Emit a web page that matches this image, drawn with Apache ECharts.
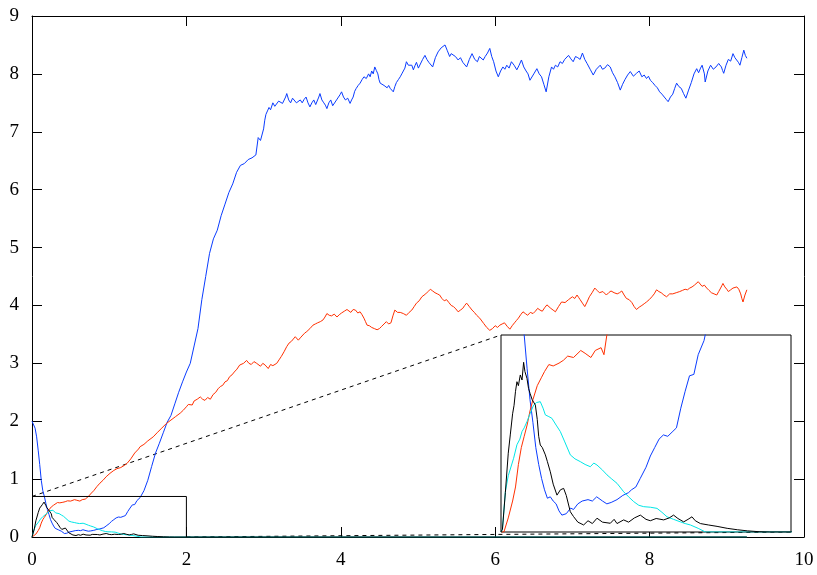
<!DOCTYPE html>
<html>
<head>
<meta charset="utf-8">
<script src="https://cdn.jsdelivr.net/npm/echarts@6/dist/echarts.min.js"></script>
<style>
  html, body { margin: 0; padding: 0; background: #fff; }
  #chart { width: 817px; height: 575px; }
</style>
</head>
<body>
<div id="chart"></div>
<script>
// ticks of the main axes
const xTicks = [0, 2, 4, 6, 8, 10];
const yTicks = [0, 1, 2, 3, 4, 5, 6, 7, 8, 9];

// zoomed window shown in the inset (main axis units)
const zoomX = [0, 2];
const zoomY = [0, 0.7];

// series, [x, y]
const blue = [
  [0, 2.0], [0.02, 1.97], [0.04, 1.88], [0.06, 1.73], [0.08, 1.5], [0.1, 1.25], [0.12, 0.98], [0.14, 0.8],
  [0.16, 0.7], [0.18, 0.58], [0.2, 0.47], [0.22, 0.39], [0.24, 0.3], [0.26, 0.24], [0.28, 0.19], [0.3, 0.15],
  [0.32, 0.12], [0.34, 0.125], [0.36, 0.11], [0.38, 0.1], [0.4, 0.075], [0.42, 0.06], [0.45, 0.065], [0.48, 0.085],
  [0.5, 0.08], [0.53, 0.1], [0.56, 0.11], [0.6, 0.115], [0.63, 0.11], [0.66, 0.125], [0.7, 0.11], [0.73, 0.1],
  [0.76, 0.105], [0.8, 0.115], [0.84, 0.13], [0.88, 0.14], [0.9, 0.15], [0.93, 0.16], [0.96, 0.19], [1.0, 0.23],
  [1.03, 0.27], [1.06, 0.3], [1.09, 0.33], [1.12, 0.345], [1.15, 0.34], [1.18, 0.355], [1.21, 0.37], [1.24, 0.44],
  [1.27, 0.5], [1.3, 0.555], [1.33, 0.56], [1.36, 0.63], [1.4, 0.68], [1.45, 0.8], [1.5, 0.98], [1.55, 1.22],
  [1.6, 1.45], [1.65, 1.62], [1.7, 1.8], [1.75, 1.98], [1.8, 2.1], [1.85, 2.3], [1.9, 2.5], [1.95, 2.68],
  [2.0, 2.85], [2.05, 3.0], [2.1, 3.3], [2.15, 3.6], [2.2, 4.1], [2.25, 4.5], [2.3, 4.9], [2.35, 5.15],
  [2.4, 5.3], [2.45, 5.55], [2.5, 5.75], [2.55, 5.95], [2.6, 6.1], [2.65, 6.3], [2.7, 6.42], [2.75, 6.45],
  [2.8, 6.52], [2.85, 6.55], [2.9, 6.6], [2.93, 6.9], [2.96, 6.85],
  [3.0, 7.05], [3.015, 7.2], [3.03, 7.3], [3.05, 7.36], [3.07, 7.42], [3.09, 7.38], [3.12, 7.5], [3.145, 7.44],
  [3.17, 7.47], [3.195, 7.53], [3.22, 7.55], [3.245, 7.49], [3.27, 7.52], [3.285, 7.6], [3.3, 7.66], [3.325, 7.55],
  [3.35, 7.5], [3.375, 7.58], [3.4, 7.55], [3.425, 7.5], [3.45, 7.48], [3.475, 7.55], [3.5, 7.5], [3.525, 7.56],
  [3.55, 7.6], [3.575, 7.5], [3.6, 7.43], [3.625, 7.5], [3.65, 7.55], [3.675, 7.47], [3.7, 7.5], [3.715, 7.6],
  [3.73, 7.66], [3.755, 7.55], [3.78, 7.5], [3.8, 7.46], [3.82, 7.4], [3.845, 7.5], [3.87, 7.55], [3.895, 7.45],
  [3.92, 7.48], [3.945, 7.55], [3.97, 7.6], [3.99, 7.64], [4.01, 7.69], [4.035, 7.6], [4.06, 7.55], [4.09, 7.58],
  [4.12, 7.49], [4.14, 7.55], [4.16, 7.6], [4.18, 7.7], [4.2, 7.75], [4.225, 7.8], [4.25, 7.84], [4.275, 7.9],
  [4.3, 7.95], [4.33, 7.92], [4.36, 8.0], [4.38, 7.95], [4.4, 8.05], [4.42, 8.0], [4.44, 8.12], [4.46, 8.06],
  [4.48, 8.0], [4.495, 7.9], [4.51, 7.84], [4.535, 7.86], [4.56, 7.8], [4.58, 7.82], [4.6, 7.76], [4.62, 7.8],
  [4.64, 7.75], [4.66, 7.72], [4.68, 7.69], [4.7, 7.78], [4.72, 7.85], [4.745, 7.9], [4.77, 7.95], [4.79, 8.0],
  [4.81, 8.05], [4.83, 8.1], [4.85, 8.21], [4.875, 8.15], [4.9, 8.12], [4.92, 8.15], [4.94, 8.07], [4.96, 8.14],
  [4.98, 8.2], [5.005, 8.1], [5.03, 8.12], [5.06, 8.25], [5.09, 8.32], [5.115, 8.25], [5.14, 8.2], [5.165, 8.17],
  [5.19, 8.12], [5.225, 8.28], [5.26, 8.38], [5.28, 8.35], [5.3, 8.45], [5.325, 8.42], [5.35, 8.5], [5.38, 8.4],
  [5.41, 8.3], [5.43, 8.35], [5.45, 8.38], [5.485, 8.3], [5.52, 8.24], [5.55, 8.28], [5.58, 8.2], [5.605, 8.22],
  [5.63, 8.12], [5.665, 8.25], [5.7, 8.35], [5.735, 8.25], [5.77, 8.21], [5.795, 8.3], [5.82, 8.28], [5.845, 8.24],
  [5.87, 8.3], [5.9, 8.36], [5.93, 8.44], [5.955, 8.3], [5.98, 8.21], [6.01, 8.05], [6.04, 7.95], [6.07, 8.05],
  [6.1, 8.12], [6.125, 8.08], [6.15, 8.15], [6.18, 8.1], [6.21, 8.21], [6.245, 8.15], [6.28, 8.07], [6.31, 8.15],
  [6.34, 8.24], [6.37, 8.12], [6.4, 8.05], [6.425, 8.0], [6.45, 7.89], [6.5, 8.0], [6.54, 8.09], [6.57, 8.0],
  [6.6, 7.95], [6.63, 7.82], [6.66, 7.69], [6.695, 7.95], [6.73, 8.12], [6.755, 8.08], [6.78, 8.15], [6.81, 8.12],
  [6.84, 8.21], [6.87, 8.18], [6.9, 8.25], [6.925, 8.22], [6.95, 8.32], [6.98, 8.26], [7.01, 8.21], [7.04, 8.3],
  [7.07, 8.28], [7.1, 8.25], [7.13, 8.36], [7.16, 8.25], [7.19, 8.18], [7.23, 8.08], [7.27, 7.98], [7.31, 8.08],
  [7.36, 8.15], [7.39, 8.08], [7.42, 8.1], [7.455, 8.16], [7.49, 8.12], [7.52, 8.02], [7.55, 7.95], [7.585, 7.85],
  [7.62, 7.72], [7.65, 7.82], [7.68, 7.9], [7.715, 7.98], [7.75, 8.04], [7.79, 7.96], [7.83, 8.01], [7.865, 8.05],
  [7.9, 7.95], [7.93, 7.98], [7.96, 7.92], [7.985, 7.96], [8.01, 7.89], [8.04, 7.85], [8.07, 7.8], [8.1, 7.76],
  [8.13, 7.69], [8.16, 7.65], [8.19, 7.6], [8.215, 7.56], [8.24, 7.52], [8.27, 7.6], [8.3, 7.65], [8.325, 7.75],
  [8.35, 7.84], [8.38, 7.78], [8.41, 7.75], [8.44, 7.66], [8.47, 7.58], [8.505, 7.72], [8.54, 7.85], [8.575, 8.0],
  [8.61, 8.09], [8.635, 8.02], [8.66, 8.1], [8.68, 8.15], [8.7, 8.18], [8.71, 8.0], [8.72, 7.86], [8.755, 8.05],
  [8.79, 8.15], [8.825, 8.08], [8.86, 8.12], [8.895, 8.18], [8.93, 8.12], [8.945, 8.06], [8.96, 8.01], [8.99, 8.15],
  [9.02, 8.25], [9.05, 8.22], [9.08, 8.35], [9.105, 8.28], [9.13, 8.3], [9.15, 8.2], [9.17, 8.15], [9.195, 8.28],
  [9.22, 8.41], [9.24, 8.32], [9.26, 8.27]
];

const red = [
  [0, 0], [0.02, 0], [0.05, 0.05], [0.08, 0.11], [0.1, 0.16], [0.12, 0.24], [0.14, 0.3], [0.16, 0.34],
  [0.18, 0.38], [0.2, 0.43], [0.22, 0.47], [0.25, 0.52], [0.28, 0.55], [0.3, 0.57], [0.33, 0.595], [0.36, 0.59],
  [0.4, 0.6], [0.43, 0.61], [0.46, 0.625], [0.5, 0.62], [0.55, 0.645], [0.58, 0.635], [0.62, 0.62], [0.65, 0.645],
  [0.69, 0.655], [0.71, 0.63], [0.73, 0.7], [0.77, 0.76], [0.8, 0.8], [0.84, 0.87], [0.88, 0.93], [0.92, 0.98],
  [0.96, 1.04], [1.01, 1.1], [1.06, 1.15], [1.1, 1.18], [1.15, 1.2], [1.2, 1.24], [1.23, 1.27], [1.28, 1.35],
  [1.33, 1.45], [1.38, 1.52], [1.4, 1.56], [1.45, 1.6], [1.5, 1.66], [1.57, 1.73], [1.62, 1.8], [1.68, 1.88],
  [1.74, 1.96], [1.8, 2.02], [1.86, 2.08], [1.92, 2.14], [1.96, 2.19],
  [2.0, 2.25], [2.025, 2.29], [2.05, 2.3], [2.075, 2.28], [2.1, 2.35], [2.14, 2.38], [2.18, 2.42], [2.21, 2.38],
  [2.24, 2.36], [2.275, 2.41], [2.31, 2.38], [2.345, 2.46], [2.38, 2.5], [2.41, 2.56], [2.44, 2.6], [2.47, 2.62],
  [2.5, 2.68], [2.53, 2.7], [2.56, 2.77], [2.59, 2.8], [2.62, 2.85], [2.655, 2.9], [2.69, 2.97], [2.715, 2.95],
  [2.74, 3.0], [2.76, 2.98], [2.78, 3.05], [2.81, 3.0], [2.84, 2.98], [2.875, 3.03], [2.91, 3.0], [2.935, 2.97],
  [2.96, 2.95], [2.99, 3.0], [3.02, 2.97], [3.04, 2.94], [3.06, 2.91], [3.09, 2.98], [3.12, 2.96], [3.145, 2.99],
  [3.17, 3.0], [3.2, 3.06], [3.23, 3.12], [3.265, 3.2], [3.3, 3.29], [3.33, 3.35], [3.36, 3.38], [3.385, 3.42],
  [3.41, 3.46], [3.43, 3.43], [3.45, 3.4], [3.475, 3.44], [3.5, 3.47], [3.53, 3.52], [3.56, 3.55], [3.58, 3.57],
  [3.6, 3.6], [3.62, 3.63], [3.64, 3.66], [3.67, 3.68], [3.7, 3.7], [3.735, 3.72], [3.77, 3.75], [3.795, 3.8],
  [3.82, 3.86], [3.85, 3.83], [3.88, 3.82], [3.915, 3.85], [3.95, 3.8], [3.98, 3.84], [4.01, 3.87], [4.045, 3.9],
  [4.08, 3.93], [4.105, 3.9], [4.13, 3.88], [4.16, 3.93], [4.19, 3.92], [4.22, 3.87], [4.25, 3.89], [4.275, 3.84],
  [4.3, 3.78], [4.32, 3.72], [4.34, 3.66], [4.37, 3.65], [4.4, 3.62], [4.435, 3.6], [4.47, 3.58], [4.5, 3.6],
  [4.53, 3.64], [4.56, 3.68], [4.59, 3.72], [4.62, 3.68], [4.65, 3.7], [4.675, 3.82], [4.7, 3.92], [4.735, 3.88],
  [4.77, 3.88], [4.81, 3.86], [4.85, 3.83], [4.885, 3.88], [4.92, 3.92], [4.95, 3.98], [4.98, 4.04], [5.015, 4.08],
  [5.05, 4.15], [5.075, 4.17], [5.1, 4.2], [5.13, 4.24], [5.16, 4.28], [5.19, 4.25], [5.22, 4.22], [5.25, 4.2],
  [5.28, 4.18], [5.31, 4.12], [5.34, 4.08], [5.37, 4.1], [5.4, 4.05], [5.43, 4.0], [5.46, 3.98], [5.49, 3.94],
  [5.52, 3.89], [5.55, 3.92], [5.58, 3.95], [5.605, 4.0], [5.63, 4.04], [5.665, 3.98], [5.7, 3.92], [5.73, 3.88],
  [5.76, 3.83], [5.8, 3.78], [5.85, 3.69], [5.89, 3.62], [5.93, 3.57], [5.965, 3.6], [6.0, 3.65], [6.03, 3.62],
  [6.06, 3.66], [6.09, 3.68], [6.12, 3.7], [6.155, 3.64], [6.19, 3.59], [6.22, 3.65], [6.25, 3.7], [6.275, 3.74],
  [6.3, 3.78], [6.33, 3.84], [6.36, 3.89], [6.39, 3.86], [6.42, 3.83], [6.455, 3.88], [6.49, 3.86], [6.52, 3.9],
  [6.55, 3.95], [6.58, 3.92], [6.61, 3.9], [6.64, 3.96], [6.67, 4.01], [6.695, 3.98], [6.72, 3.95], [6.75, 3.92],
  [6.78, 3.89], [6.82, 3.98], [6.86, 4.06], [6.905, 4.05], [6.95, 4.1], [6.975, 4.13], [7.0, 4.15], [7.03, 4.12],
  [7.06, 4.18], [7.08, 4.14], [7.1, 4.1], [7.13, 4.04], [7.16, 3.98], [7.19, 4.06], [7.22, 4.15], [7.255, 4.22],
  [7.29, 4.3], [7.32, 4.26], [7.35, 4.22], [7.395, 4.24], [7.44, 4.18], [7.47, 4.22], [7.5, 4.25], [7.54, 4.22],
  [7.58, 4.2], [7.61, 4.22], [7.64, 4.25], [7.67, 4.18], [7.7, 4.12], [7.735, 4.1], [7.77, 4.05], [7.8, 3.98],
  [7.83, 3.93], [7.865, 3.97], [7.9, 4.0], [7.93, 4.03], [7.96, 4.06], [7.995, 4.1], [8.03, 4.15], [8.06, 4.2],
  [8.09, 4.27], [8.12, 4.24], [8.15, 4.22], [8.185, 4.18], [8.22, 4.15], [8.26, 4.2], [8.3, 4.2], [8.345, 4.22],
  [8.39, 4.24], [8.425, 4.26], [8.46, 4.28], [8.49, 4.27], [8.52, 4.3], [8.55, 4.32], [8.58, 4.35], [8.605, 4.38],
  [8.63, 4.41], [8.655, 4.37], [8.68, 4.33], [8.71, 4.35], [8.74, 4.3], [8.77, 4.26], [8.8, 4.22], [8.835, 4.2],
  [8.87, 4.18], [8.895, 4.24], [8.92, 4.3], [8.935, 4.34], [8.95, 4.38], [8.975, 4.32], [9.0, 4.28], [9.02, 4.24],
  [9.05, 4.27], [9.08, 4.3], [9.105, 4.28], [9.13, 4.32], [9.155, 4.28], [9.18, 4.2], [9.195, 4.12], [9.21, 4.06],
  [9.235, 4.18], [9.26, 4.27]
];

const black = [
  [0, 0], [0.01, 0.01], [0.03, 0.14], [0.05, 0.28], [0.064, 0.345], [0.08, 0.42], [0.09, 0.45], [0.1, 0.5],
  [0.11, 0.534], [0.12, 0.52], [0.133, 0.558], [0.145, 0.54], [0.156, 0.603], [0.165, 0.57], [0.179, 0.546], [0.19, 0.51],
  [0.2, 0.493], [0.215, 0.47], [0.237, 0.451], [0.25, 0.4], [0.26, 0.34], [0.271, 0.309], [0.285, 0.3], [0.306, 0.274],
  [0.32, 0.25], [0.34, 0.214], [0.36, 0.17], [0.386, 0.131], [0.41, 0.15], [0.432, 0.155], [0.45, 0.13], [0.478, 0.072],
  [0.5, 0.055], [0.53, 0.035], [0.57, 0.025], [0.6, 0.04], [0.63, 0.03], [0.662, 0.049], [0.7, 0.035], [0.754, 0.031],
  [0.78, 0.045], [0.8, 0.03], [0.846, 0.043], [0.88, 0.035], [0.92, 0.05], [0.961, 0.06], [1.0, 0.045], [1.03, 0.04],
  [1.07, 0.048], [1.122, 0.043], [1.16, 0.05], [1.19, 0.06], [1.22, 0.048], [1.26, 0.036], [1.29, 0.045], [1.317, 0.054],
  [1.34, 0.04], [1.375, 0.03], [1.43, 0.025], [1.49, 0.02], [1.56, 0.013], [1.63, 0.008], [1.7, 0.004], [1.78, 0.001],
  [1.85, 0], [9.26, 0]
];

const cyan = [
  [0, 0], [0.01, 0.01], [0.03, 0.143], [0.05, 0.2], [0.087, 0.262], [0.11, 0.31], [0.13, 0.33], [0.145, 0.357],
  [0.16, 0.37], [0.179, 0.392], [0.2, 0.42], [0.225, 0.451], [0.245, 0.46], [0.271, 0.463], [0.29, 0.44], [0.306, 0.416],
  [0.33, 0.41], [0.351, 0.404], [0.38, 0.38], [0.409, 0.357], [0.44, 0.32], [0.478, 0.274], [0.51, 0.26], [0.547, 0.25],
  [0.58, 0.24], [0.616, 0.232], [0.64, 0.245], [0.662, 0.238], [0.7, 0.22], [0.731, 0.203], [0.76, 0.19], [0.8, 0.173],
  [0.82, 0.16], [0.846, 0.143], [0.88, 0.125], [0.915, 0.108], [0.95, 0.095], [0.984, 0.09], [1.03, 0.088], [1.076, 0.084],
  [1.11, 0.07], [1.145, 0.054], [1.19, 0.045], [1.237, 0.036], [1.27, 0.03], [1.306, 0.025], [1.36, 0.013], [1.41, 0],
  [9.26, 0]
];

const colors = { blue: '#0a3cff', red: '#ff3000', black: '#000000', cyan: '#00e6e6' };

const font = "'Liberation Serif', 'DejaVu Serif', serif";
const myChart = echarts.init(document.getElementById('chart'));

// inset box, in pixels
const inset = { left: 501, top: 335, width: 290, height: 197 };

function curve(name, data, color, axis) {
  return {
    name: name,
    type: 'line',
    data: data,
    xAxisIndex: axis,
    yAxisIndex: axis,
    showSymbol: false,
    animation: false,
    lineStyle: { color: color, width: 1 },
    z: 3,
  };
}

function mainAxis(pos, min, max, interval, labels) {
  return {
    type: 'value',
    gridIndex: 0,
    position: pos,
    min: min,
    max: max,
    interval: interval,
    axisLine: { show: true, onZero: false, lineStyle: { color: '#000', width: 1 } },
    axisTick: { show: true, inside: true, length: 10, lineStyle: { color: '#000' } },
    axisLabel: {
      show: labels,
      color: '#000',
      fontFamily: font,
      fontSize: 19,
      margin: pos === 'bottom' ? 14 : 13,
    },
    splitLine: { show: false },
  };
}

function insetAxis(min, max) {
  return {
    type: 'value',
    gridIndex: 1,
    min: min,
    max: max,
    show: false,
    splitLine: { show: false },
  };
}

const option = {
  backgroundColor: '#fff',
  animation: false,
  grid: [
    { left: 32, right: 13, top: 16, bottom: 38 },
    {
      left: inset.left, top: inset.top, width: inset.width, height: inset.height,
      show: true, backgroundColor: '#fff', borderColor: '#000', borderWidth: 1, z: 5,
    },
  ],
  xAxis: [
    mainAxis('bottom', xTicks[0], xTicks[xTicks.length - 1], 2, true),
    mainAxis('top', xTicks[0], xTicks[xTicks.length - 1], 2, false),
    insetAxis(zoomX[0], zoomX[1]),
  ],
  yAxis: [
    mainAxis('left', yTicks[0], yTicks[yTicks.length - 1], 1, true),
    mainAxis('right', yTicks[0], yTicks[yTicks.length - 1], 1, false),
    insetAxis(zoomY[0], zoomY[1]),
  ],
  series: [
    curve('blue', blue, colors.blue, 0),
    curve('red', red, colors.red, 0),
    curve('cyan', cyan, colors.cyan, 0),
    curve('black', black, colors.black, 0),
    {
      // zoom window on the main plot
      type: 'line',
      data: [[zoomX[0], zoomY[1]], [zoomX[1], zoomY[1]], [zoomX[1], zoomY[0]]],
      xAxisIndex: 0,
      yAxisIndex: 0,
      showSymbol: false,
      lineStyle: { color: '#000', width: 1 },
      z: 4,
    },
    Object.assign(curve('blue', blue, colors.blue, 2), { z: 6 }),
    Object.assign(curve('red', red, colors.red, 2), { z: 6 }),
    Object.assign(curve('cyan', cyan, colors.cyan, 2), { z: 6 }),
    Object.assign(curve('black', black, colors.black, 2), { z: 6 }),
  ],
};

myChart.setOption(option);

// dashed connectors from the zoom window to the inset corners
const topLeft = myChart.convertFromPixel({ gridIndex: 0 }, [inset.left, inset.top]);
const bottomRight = myChart.convertFromPixel({ gridIndex: 0 }, [inset.left + inset.width, inset.top + inset.height]);

function dashed(data) {
  return {
    type: 'line',
    data: data,
    xAxisIndex: 0,
    yAxisIndex: 0,
    showSymbol: false,
    lineStyle: { color: '#000', width: 1, type: [4, 4] },
    z: 1,
  };
}

myChart.setOption({
  series: option.series.concat([
    dashed([[zoomX[0], zoomY[1]], topLeft]),
    dashed([[zoomX[1], zoomY[0]], bottomRight]),
  ]),
});
</script>
</body>
</html>
